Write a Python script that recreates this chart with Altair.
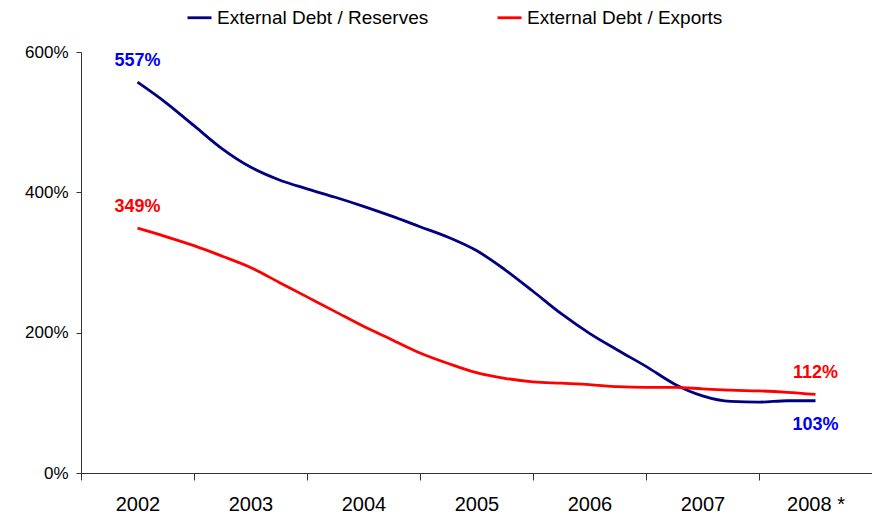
import altair as alt
import pandas as pd

period = [2002.0, 2002.25, 2002.5, 2002.75, 2003.0, 2003.25, 2003.5, 2003.75,
          2004.0, 2004.25, 2004.5, 2004.75, 2005.0, 2005.25, 2005.5, 2005.75,
          2006.0, 2006.25, 2006.5, 2006.75, 2007.0, 2007.25, 2007.5, 2007.75, 2008.0]
debt_reserves = [557, 528, 495, 462, 436, 418, 405, 393, 380, 366, 351, 336, 317,
                 290, 259, 227, 199, 175, 152, 127, 110, 102, 101, 103, 103]
debt_exports = [349, 337, 324, 309, 293, 272, 251, 230, 209, 190, 171, 156, 143,
                135, 130, 128, 126, 123, 122, 122, 120, 118, 117, 115, 112]
series_names = ["External Debt / Reserves", "External Debt / Exports"]
series_colors = ["#000080", "#FF0000"]
label_colors = ["#0000FF", "#FF0000"]
tick_values = [2001.5, 2002.5, 2003.5, 2004.5, 2005.5, 2006.5, 2007.5, 2008.5]
year_labels = ["2002", "2003", "2004", "2005", "2006", "2007", "2008 *", ""]

rows = []
for p, r, e in zip(period, debt_reserves, debt_exports):
    rows.append({"period": p, "value": r, "series": series_names[0]})
    rows.append({"period": p, "value": e, "series": series_names[1]})
df = pd.DataFrame(rows)

label_map = "{" + ",".join(f"'{v}':'{l}'" for v, l in zip(tick_values, year_labels)) + "}"

x_scale = alt.Scale(domain=[2001.5, 2008.5], nice=False, zero=False)
y_scale = alt.Scale(domain=[0, 600], nice=False)

lines = alt.Chart(df).mark_line(strokeWidth=2.8, interpolate="monotone").encode(
    x=alt.X("period:Q", scale=x_scale,
            axis=alt.Axis(values=tick_values, title=None, grid=False,
                          labelExpr=f"{label_map}[toString(datum.value)] || ''",
                          labelOffset=56.5, labelFlush=False, labelOverlap=False,
                          labelFontSize=20, labelColor="#000", labelFont="Liberation Sans",
                          labelPadding=14, tickSize=7, tickColor="#333",
                          domainColor="#333", labelBound=False)),
    y=alt.Y("value:Q", scale=y_scale,
            axis=alt.Axis(values=[0, 200, 400, 600], title=None, grid=False,
                          labelExpr="datum.value + '%'", labelFontSize=17,
                          labelColor="#000", labelFont="Liberation Sans",
                          labelPadding=8, tickSize=5, tickColor="#333",
                          domainColor="#333")),
    color=alt.Color("series:N",
                    scale=alt.Scale(domain=series_names, range=series_colors),
                    legend=alt.Legend(orient="none", legendX=105, legendY=-48,
                                      direction="horizontal", title=None,
                                      symbolType="stroke", symbolSize=576,
                                      symbolStrokeWidth=2.8, labelFontSize=19,
                                      labelFont="Liberation Sans", labelColor="#000",
                                      columnPadding=62, labelOffset=4, labelLimit=400)),
)

# value annotations
first_last = pd.DataFrame({
    "period": [period[0], period[-1], period[0], period[-1]],
    "value": [debt_reserves[0], debt_reserves[-1], debt_exports[0], debt_exports[-1]],
    "series": [series_names[0], series_names[0], series_names[1], series_names[1]],
    "text": [f"{debt_reserves[0]}%", f"{debt_reserves[-1]}%",
             f"{debt_exports[0]}%", f"{debt_exports[-1]}%"],
    "pos": ["above", "below", "above", "above"],
})

def text_layer(pos, dy):
    return alt.Chart(first_last).transform_filter(
        alt.datum.pos == pos
    ).mark_text(fontSize=18, fontWeight="bold", font="Liberation Sans", dy=dy,
                align="center", baseline="middle").encode(
        x=alt.X("period:Q", scale=x_scale),
        y=alt.Y("value:Q", scale=y_scale),
        text="text:N",
        color=alt.Color("series:N", scale=alt.Scale(domain=series_names, range=label_colors),
                        legend=None),
    )

chart = alt.layer(lines, text_layer("above", -21), text_layer("below", 24)).resolve_scale(
    color="independent"
).properties(
    width=791, height=421,
    background="white",
    autosize=alt.AutoSizeParams(type="none"),
    padding={"left": 81, "top": 52, "right": 0, "bottom": 47},
).configure_view(stroke=None)

chart.save("out.html", embed_options={"renderer": "svg", "actions": False})
